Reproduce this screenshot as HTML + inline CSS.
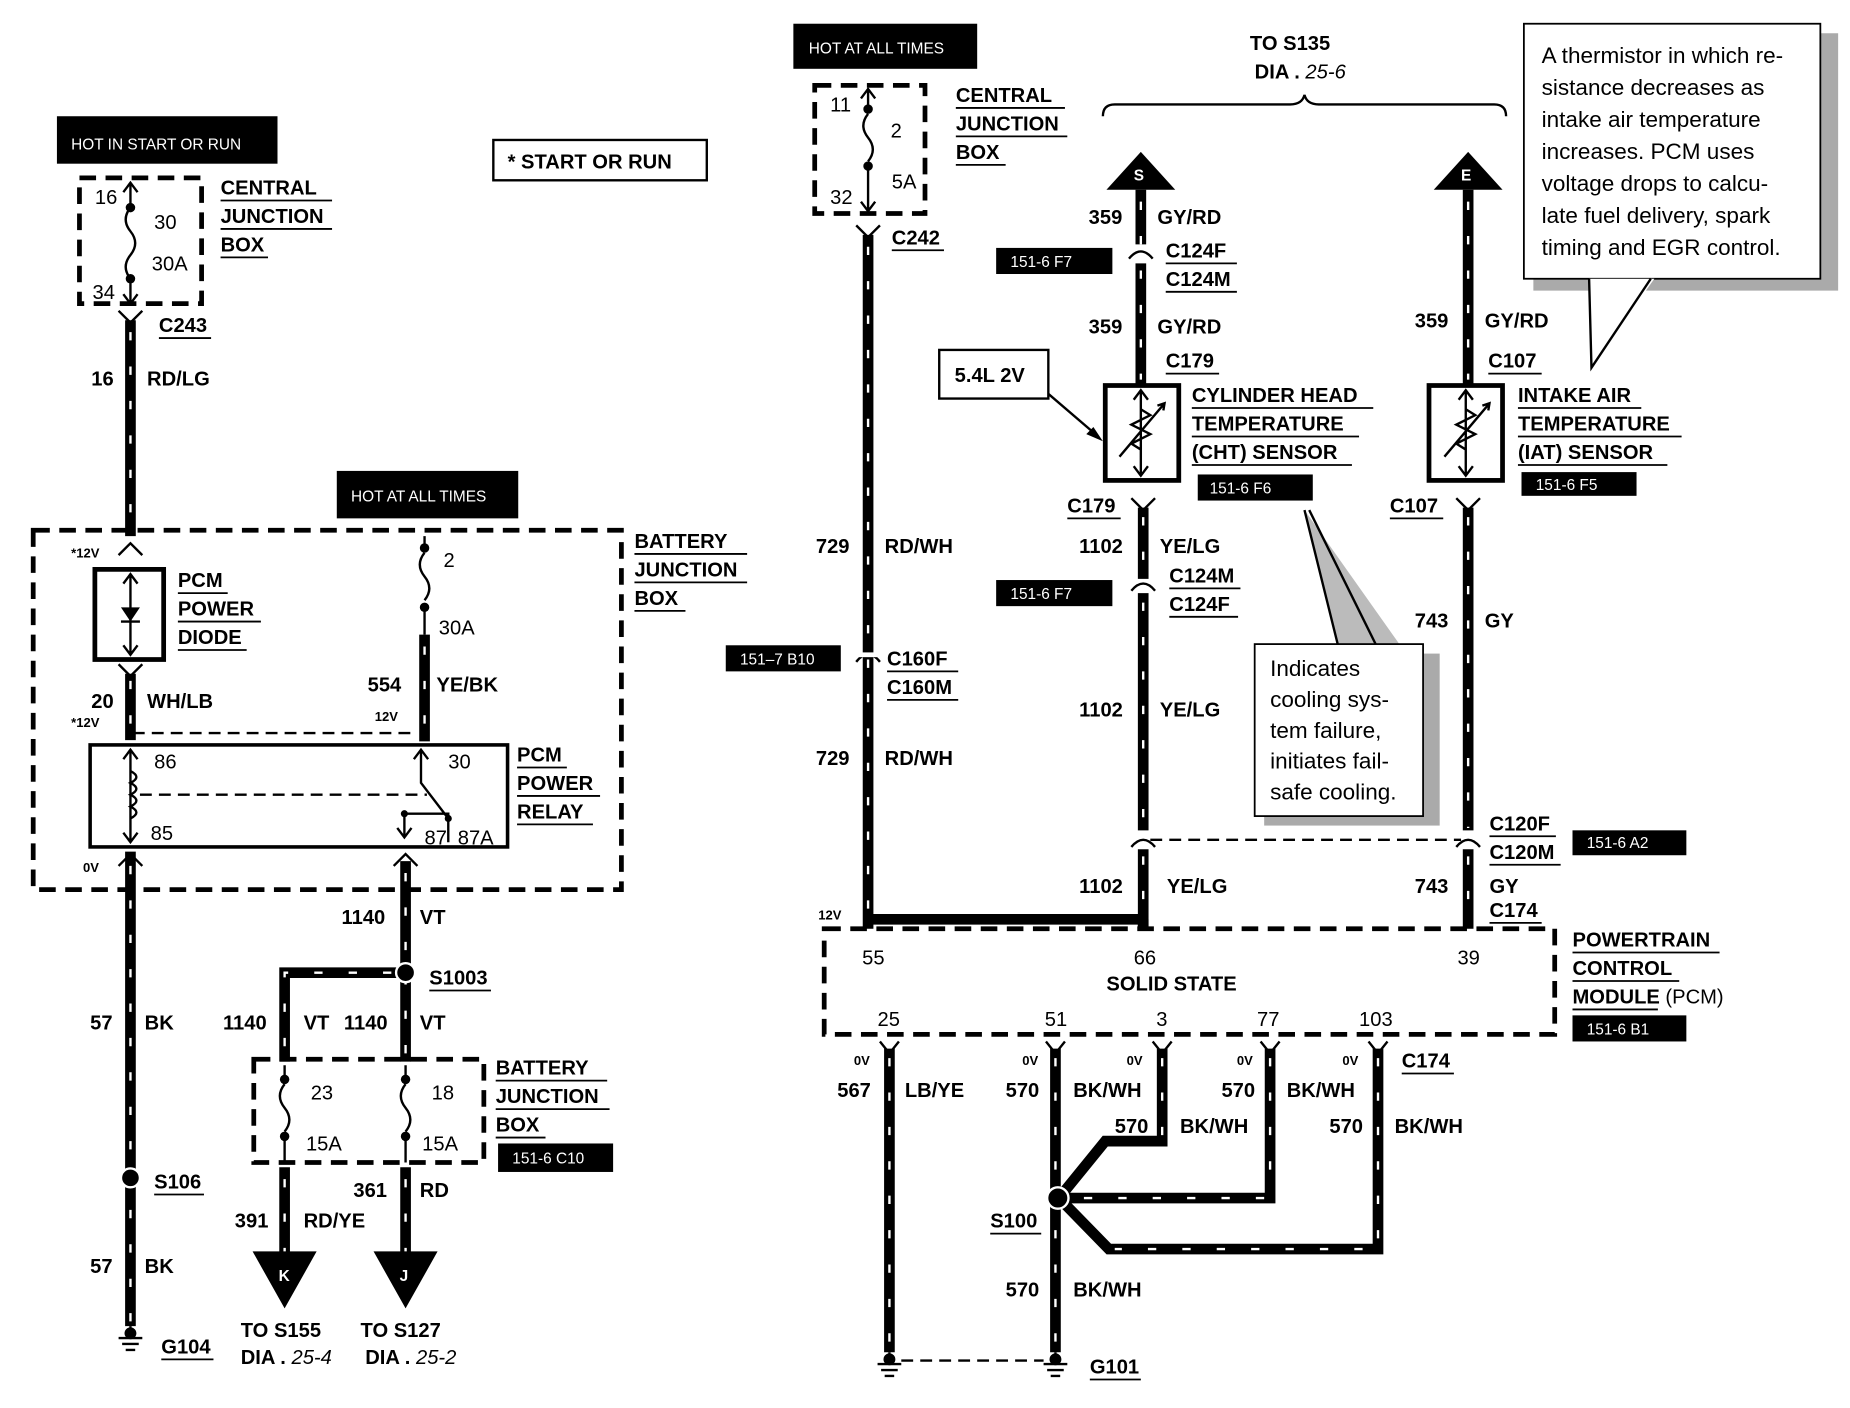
<!DOCTYPE html>
<html><head><meta charset="utf-8"><style>
html,body{margin:0;padding:0;background:#fff;}
svg{display:block}
text{font-family:"Liberation Sans",sans-serif;font-weight:bold;font-size:17px;fill:#000}
.n{font-weight:normal}
.s{font-size:13px;font-weight:normal;fill:#fff}
.v{font-size:11px}
.c{font-weight:normal;font-size:19px}
.w{stroke:#000;stroke-width:9;fill:none;stroke-linejoin:miter}
.wd{stroke:#fff;stroke-width:2;fill:none;stroke-dasharray:7 22}
.d{stroke:#000;stroke-width:4;fill:none;stroke-dasharray:14 8}
.dt{stroke:#000;stroke-width:2;fill:none;stroke-dasharray:10 6}
.l{stroke:#000;stroke-width:2;fill:none}
.u{stroke:#000;stroke-width:1.5}
</style></head><body>
<svg width="1850" height="1408" viewBox="0 0 1560 1187" preserveAspectRatio="none" xmlns="http://www.w3.org/2000/svg">
<!-- LEFT -->
<rect x="48" y="98" width="186" height="40" fill="#000"/><text class="s" x="60" y="126">HOT IN START OR RUN</text>
<rect x="416" y="118" width="180" height="34" fill="none" stroke="#000" stroke-width="2"/><text x="428" y="142">* START OR RUN</text>
<rect x="67" y="150" width="103" height="106" class="d"/>
<path class="l" d="M110 154 V175 M110 235 V256 M104 162 L110 154 L116 162 M104 248 L110 256 L116 248"/>
<path class="l" d="M110 175 q-8 10 0 20 q8 10 0 20 q-8 10 0 20"/>
<circle cx="110" cy="175" r="4"/><circle cx="110" cy="235" r="4"/>
<text class="n" x="80" y="172">16</text><text x="130" y="193" class="n">30</text><text x="128" y="228" class="n">30A</text><text x="78" y="252" class="n">34</text>
<text x="186" y="164">CENTRAL</text><text x="186" y="188">JUNCTION</text><text x="186" y="212">BOX</text>
<path class="u" d="M186 169H280 M186 193H280 M186 217H226"/>
<path class="w" d="M110 270 V452"/><path class="wd" d="M110 280 V452"/>
<path class="l" d="M100 262 L110 272 L120 262"/>
<text x="134" y="280">C243</text><path class="u" d="M134 285H178"/>
<text x="77" y="325">16</text><text x="124" y="325">RD/LG</text>
<rect x="284" y="397" width="153" height="40" fill="#000"/><text class="s" x="296" y="423">HOT AT ALL TIMES</text>
<rect x="28" y="447" width="496" height="303" class="d"/>
<text x="535" y="462">BATTERY</text><text x="535" y="486">JUNCTION</text><text x="535" y="510">BOX</text>
<path class="u" d="M535 467H630 M535 491H630 M535 515H578"/>
<path class="l" d="M100 468 L110 458 L120 468"/>
<text class="v" x="60" y="470">*12V</text>
<rect x="80" y="480" width="58" height="76" fill="none" stroke="#000" stroke-width="4"/>
<path class="l" d="M110 484 V552 M104 492 L110 484 L116 492 M104 544 L110 552 L116 544"/>
<path d="M102 512 H118 L110 524 Z"/><path class="l" d="M102 524H118"/>
<text x="150" y="495">PCM</text><text x="150" y="519">POWER</text><text x="150" y="543">DIODE</text>
<path class="u" d="M150 500H192 M150 524H220 M150 548H208"/>
<path class="w" d="M110 568 V624"/><path class="wd" d="M110 574 V624"/>
<path class="l" d="M100 560 L110 570 L120 560"/>
<text x="77" y="597">20</text><text x="124" y="597">WH/LB</text><text class="v" x="60" y="613">*12V</text>
<path class="l" d="M358 452 V462 M358 512 V535"/><circle cx="358" cy="462" r="4"/><circle cx="358" cy="512" r="4"/>
<path class="l" d="M358 466 q-8 10 0 20 q8 10 0 20"/>
<path class="w" d="M358 535 V625"/><path class="wd" d="M358 545 V625"/>
<text class="n" x="374" y="478">2</text><text class="n" x="370" y="535">30A</text>
<text x="310" y="583">554</text><text x="368" y="583">YE/BK</text><text class="v" x="316" y="608">12V</text>
<path class="dt" d="M112 618 H350"/>
<rect x="76" y="628" width="352" height="86" fill="none" stroke="#000" stroke-width="3"/>
<path class="l" d="M110 632 V710 M104 640 L110 632 L116 640 M104 702 L110 710 L116 702"/>
<path class="l" d="M110 650 q10 5 0 10 q10 5 0 10 q10 5 0 10 q10 5 0 10"/>
<path class="dt" d="M118 670 H360"/>
<path class="l" d="M355 632 V660 L378 690 M349 640 L355 632 L361 640 M341 706 V686 H378 V710 M335 698 L341 706 L347 698 M378 690 V710"/>
<circle cx="341" cy="686" r="3"/><circle cx="378" cy="690" r="3"/>
<text class="n" x="130" y="648">86</text><text class="n" x="127" y="708">85</text><text class="n" x="378" y="648">30</text><text class="n" x="358" y="712">87</text><text class="n" x="386" y="712">87A</text>
<text x="436" y="642">PCM</text><text x="436" y="666">POWER</text><text x="436" y="690">RELAY</text>
<path class="u" d="M436 647H478 M436 671H506 M436 695H500"/>
<path class="w" d="M110 718 V1118"/><path class="wd" d="M110 730 V1118"/>
<path class="l" d="M100 730 L110 720 L120 730"/>
<text class="v" x="70" y="735">0V</text>
<text x="76" y="868">57</text><text x="122" y="868">BK</text>
<circle cx="110" cy="993" r="8" stroke="#fff" stroke-width="2"/><text x="130" y="1002">S106</text><path class="u" d="M130 1007H172"/>
<text x="76" y="1073">57</text><text x="122" y="1073">BK</text>
<path class="l" d="M110 1118 V1128 M100 1128H120 M103 1133H117 M106 1138H114"/><circle cx="110" cy="1124" r="5"/>
<text x="136" y="1141">G104</text><path class="u" d="M136 1146H180"/>
<path class="w" d="M342 726 V895 M342 820 H240 V895"/><path class="wd" d="M342 736 V895 M330 820 H240 V895"/>
<path class="l" d="M332 730 L342 720 L352 730"/>
<text x="288" y="779">1140</text><text x="354" y="779">VT</text>
<circle cx="342" cy="820" r="8" stroke="#fff" stroke-width="2"/><text x="362" y="830">S1003</text><path class="u" d="M362 835H414"/>
<text x="188" y="868">1140</text><text x="256" y="868">VT</text><text x="290" y="868">1140</text><text x="354" y="868">VT</text>
<rect x="214" y="893" width="194" height="87" class="d"/>
<path class="l" d="M240 898 V910 M240 958 V980 M342 898 V910 M342 958 V980"/>
<circle cx="240" cy="910" r="4"/><circle cx="240" cy="958" r="4"/><circle cx="342" cy="910" r="4"/><circle cx="342" cy="958" r="4"/>
<path class="l" d="M240 914 q-8 10 0 20 q8 10 0 20 M342 914 q-8 10 0 20 q8 10 0 20"/>
<text class="n" x="262" y="927">23</text><text class="n" x="258" y="970">15A</text><text class="n" x="364" y="927">18</text><text class="n" x="356" y="970">15A</text>
<text x="418" y="906">BATTERY</text><text x="418" y="930">JUNCTION</text><text x="418" y="954">BOX</text>
<path class="u" d="M418 911H512 M418 935H514 M418 959H460"/>
<rect x="420" y="964" width="97" height="24" fill="#000"/><text class="s" x="432" y="981">151-6 C10</text>
<path class="w" d="M240 984 V1058 M342 984 V1058"/><path class="wd" d="M240 994 V1058 M342 994 V1058"/>
<path d="M213 1055 H267 L240 1103 Z M315 1055 H369 L342 1103 Z"/>
<text class="s" x="235" y="1080" style="font-weight:bold">K</text><text class="s" x="337" y="1080" style="font-weight:bold">J</text>
<text x="198" y="1035">391</text><text x="256" y="1035">RD/YE</text><text x="298" y="1009">361</text><text x="354" y="1009">RD</text>
<text x="203" y="1127">TO S155</text><text x="203" y="1150">DIA . <tspan font-style="italic" font-weight="normal">25-4</tspan></text>
<text x="304" y="1127">TO S127</text><text x="308" y="1150">DIA . <tspan font-style="italic" font-weight="normal">25-2</tspan></text>
<!-- MIDDLE -->
<rect x="669" y="20" width="155" height="38" fill="#000"/><text class="s" x="682" y="45">HOT AT ALL TIMES</text>
<rect x="687" y="72" width="93" height="108" class="d"/>
<path class="l" d="M732 75 V92 M732 140 V178 M726 83 L732 75 L738 83 M726 170 L732 178 L738 170"/>
<circle cx="732" cy="92" r="4"/><circle cx="732" cy="140" r="4"/><path class="l" d="M732 96 q-8 10 0 20 q8 10 0 20"/>
<text class="n" x="700" y="94">11</text><text class="n" x="751" y="116">2</text><text class="n" x="752" y="159">5A</text><text class="n" x="700" y="172">32</text>
<text x="806" y="86">CENTRAL</text><text x="806" y="110">JUNCTION</text><text x="806" y="134">BOX</text>
<path class="u" d="M806 91H898 M806 115H900 M806 139H848"/>
<path class="w" d="M732 198 V775 H964 M964 775 V783 M732 775 V783"/><path class="wd" d="M732 208 V770"/>
<path class="l" d="M722 190 L732 200 L742 190"/>
<text x="752" y="206">C242</text><path class="u" d="M752 211H796"/>
<text x="688" y="466">729</text><text x="746" y="466">RD/WH</text>
<rect x="612" y="544" width="97" height="22" fill="#000"/><text class="s" x="624" y="560">151–7 B10</text>
<path class="l" d="M722 558 Q732 545 742 558"/><rect x="722" y="550" width="20" height="4" fill="#fff"/>
<text x="748" y="561">C160F</text><text x="748" y="585">C160M</text><path class="u" d="M748 566H808 M748 590H808"/>
<text x="688" y="645">729</text><text x="746" y="645">RD/WH</text>
<text class="v" x="690" y="775">12V</text>
<rect x="695" y="783" width="616" height="89" class="d"/>
<text class="n" x="727" y="813">55</text><text class="n" x="956" y="813">66</text><text class="n" x="1229" y="813">39</text>
<text x="933" y="835">SOLID STATE</text>
<text class="n" x="740" y="865">25</text><text class="n" x="881" y="865">51</text><text class="n" x="975" y="865">3</text><text class="n" x="1060" y="865">77</text><text class="n" x="1146" y="865">103</text>
<text x="1326" y="798">POWERTRAIN</text><text x="1326" y="822">CONTROL</text><text x="1326" y="846">MODULE <tspan font-weight="normal">(PCM)</tspan></text>
<path class="u" d="M1326 803H1450 M1326 827H1416 M1326 851H1398"/>
<rect x="1326" y="856" width="96" height="22" fill="#000"/><text class="s" x="1338" y="872">151-6 B1</text>
<path class="w" d="M750 884 V1140 M890 884 V1140 M980 884 V962 H932 L893 1010 M1071 884 V1010 H893 M1162 884 V1053 H935 L893 1010"/>
<path class="wd" d="M750 892 V1140 M890 892 V1140 M980 892 V958 M1071 892 V1005 M1162 892 V1053 H940 M1066 1010 H905"/>
<path class="l" d="M742 878 L750 888 L758 878 M882 878 L890 888 L898 878 M972 878 L980 888 L988 878 M1063 878 L1071 888 L1079 878 M1154 878 L1162 888 L1170 878"/>
<circle cx="892" cy="1010" r="9" stroke="#fff" stroke-width="2"/>
<text class="v" x="720" y="898">0V</text><text class="v" x="862" y="898">0V</text><text class="v" x="950" y="898">0V</text><text class="v" x="1043" y="898">0V</text><text class="v" x="1132" y="898">0V</text>
<text x="706" y="925">567</text><text x="763" y="925">LB/YE</text>
<text x="848" y="925">570</text><text x="905" y="925">BK/WH</text>
<text x="940" y="955">570</text><text x="995" y="955">BK/WH</text>
<text x="1030" y="925">570</text><text x="1085" y="925">BK/WH</text>
<text x="1121" y="955">570</text><text x="1176" y="955">BK/WH</text>
<text x="1182" y="900">C174</text><path class="u" d="M1182 905H1226"/>
<text x="835" y="1035">S100</text><path class="u" d="M835 1040H878"/>
<text x="848" y="1093">570</text><text x="905" y="1093">BK/WH</text>
<path class="dt" d="M760 1147 H880"/>
<path class="l" d="M750 1140 V1150 M740 1150H760 M743 1155H757 M746 1160H754 M890 1140 V1150 M880 1150H900 M883 1155H897 M886 1160H894"/>
<circle cx="750" cy="1146" r="5"/><circle cx="890" cy="1146" r="5"/>
<text x="919" y="1158">G101</text><path class="u" d="M919 1163H962"/>
<!-- CHT -->
<path d="M933 160 H991 L962 128 Z"/><text class="s" x="956" y="152" style="font-weight:bold">S</text>
<path class="w" d="M962 160 V206 M962 222 V325"/><path class="wd" d="M962 170 V206 M962 228 V320"/>
<path class="l" d="M952 218 Q962 206 972 218"/>
<text x="918" y="189">359</text><text x="976" y="189">GY/RD</text>
<rect x="840" y="209" width="98" height="22" fill="#000"/><text class="s" x="852" y="225">151-6 F7</text>
<text x="983" y="217">C124F</text><text x="983" y="241">C124M</text><path class="u" d="M983 222H1043 M983 246H1043"/>
<text x="918" y="281">359</text><text x="976" y="281">GY/RD</text>
<text x="983" y="310">C179</text><path class="u" d="M983 315H1028"/>
<rect x="932" y="325" width="62" height="80" fill="none" stroke="#000" stroke-width="4"/>
<path class="l" d="M962 329 V401 M956 337 L962 329 L968 337 M956 393 L962 401 L968 393 M962 345 l8 5 l-16 8 l16 8 l-16 8 l8 5 M944 385 L982 340 M976 342 l6 -2 l-1 6"/>
<text x="1005" y="339">CYLINDER HEAD</text><text x="1005" y="363">TEMPERATURE</text><text x="1005" y="387">(CHT) SENSOR</text>
<path class="u" d="M1005 344H1158 M1005 368H1146 M1005 392H1140"/>
<rect x="1010" y="400" width="97" height="22" fill="#000"/><text class="s" x="1020" y="416">151-6 F6</text>
<rect x="792" y="295" width="92" height="41" fill="none" stroke="#000" stroke-width="2"/><text x="805" y="322">5.4L 2V</text>
<path class="l" d="M884 332 L926 368"/><path d="M930 372 L916 366 L922 360 Z"/>
<text x="900" y="432">C179</text><path class="u" d="M900 437H945"/>
<path class="w" d="M964 428 V488 M964 500 V700 M964 716 V783"/><path class="wd" d="M964 436 V484 M964 508 V698 M964 722 V775"/>
<path class="l" d="M954 420 L964 430 L974 420 M954 498 Q964 486 974 498 M954 714 Q964 702 974 714"/>
<text x="910" y="466">1102</text><text x="978" y="466">YE/LG</text>
<rect x="840" y="489" width="98" height="22" fill="#000"/><text class="s" x="852" y="505">151-6 F7</text>
<text x="986" y="491">C124M</text><text x="986" y="515">C124F</text><path class="u" d="M986 496H1046 M986 520H1044"/>
<text x="910" y="604">1102</text><text x="978" y="604">YE/LG</text>
<text x="910" y="753">1102</text><text x="984" y="753">YE/LG</text>
<path class="dt" d="M970 708 H1232"/>
<!-- callout cooling -->
<path d="M1100 430 L1128 543 L1180 543 Z" fill="#bbb"/><path class="l" d="M1100 430 L1128 543 M1104 430 L1160 543"/>
<rect x="1066" y="551" width="148" height="145" fill="#aaa"/>
<rect x="1058" y="543" width="142" height="145" fill="#fff" stroke="#000" stroke-width="1.5"/>
<text class="c" x="1071" y="570">Indicates</text><text class="c" x="1071" y="596">cooling sys-</text><text class="c" x="1071" y="622">tem failure,</text><text class="c" x="1071" y="648">initiates fail-</text><text class="c" x="1071" y="674">safe cooling.</text>
<!-- IAT -->
<path d="M1209 160 H1267 L1238 128 Z"/><text class="s" x="1232" y="152" style="font-weight:bold">E</text>
<path class="w" d="M1238 160 V325"/><path class="wd" d="M1238 170 V320"/>
<text x="1193" y="276">359</text><text x="1252" y="276">GY/RD</text>
<text x="1255" y="310">C107</text><path class="u" d="M1255 315H1300"/>
<rect x="1205" y="325" width="62" height="80" fill="none" stroke="#000" stroke-width="4"/>
<path class="l" d="M1236 329 V401 M1230 337 L1236 329 L1242 337 M1230 393 L1236 401 L1242 393 M1236 345 l8 5 l-16 8 l16 8 l-16 8 l8 5 M1218 385 L1256 340 M1250 342 l6 -2 l-1 6"/>
<text x="1280" y="339">INTAKE AIR</text><text x="1280" y="363">TEMPERATURE</text><text x="1280" y="387">(IAT) SENSOR</text>
<path class="u" d="M1280 344H1384 M1280 368H1418 M1280 392H1406"/>
<rect x="1283" y="398" width="97" height="20" fill="#000"/><text class="s" x="1295" y="413">151-6 F5</text>
<text x="1172" y="432">C107</text><path class="u" d="M1172 437H1217"/>
<path class="w" d="M1238 428 V700 M1238 716 V783"/><path class="wd" d="M1238 436 V698 M1238 722 V775"/>
<path class="l" d="M1228 420 L1238 430 L1248 420 M1228 714 Q1238 702 1248 714"/>
<text x="1193" y="529">743</text><text x="1252" y="529">GY</text>
<text x="1256" y="700">C120F</text><text x="1256" y="724">C120M</text><path class="u" d="M1256 705H1312 M1256 729H1316"/>
<rect x="1326" y="700" width="96" height="21" fill="#000"/><text class="s" x="1338" y="715">151-6 A2</text>
<text x="1193" y="753">743</text><text x="1256" y="753">GY</text>
<text x="1256" y="773">C174</text><path class="u" d="M1256 778H1300"/>
<!-- top brace -->
<text x="1054" y="42">TO S135</text><text x="1058" y="66">DIA . <tspan font-style="italic" font-weight="normal">25-6</tspan></text>
<path class="l" d="M930 98 Q930 88 940 88 H1088 Q1098 88 1100 80 Q1102 88 1112 88 H1260 Q1270 88 1270 98"/>
<!-- thermistor callout -->
<path d="M1293 28 H1550 V245 H1293 Z" fill="#aaa"/>
<rect x="1285" y="20" width="250" height="215" fill="#fff" stroke="#000" stroke-width="1.5"/>
<path d="M1340 235 L1342 310 L1395 235 Z" fill="#fff"/><path class="l" d="M1340 235 L1342 310 L1392 235"/>
<text class="c" x="1300" y="53">A thermistor in which re-</text>
<text class="c" x="1300" y="80">sistance decreases as</text>
<text class="c" x="1300" y="107">intake air temperature</text>
<text class="c" x="1300" y="134">increases. PCM uses</text>
<text class="c" x="1300" y="161">voltage drops to calcu-</text>
<text class="c" x="1300" y="188">late fuel delivery, spark</text>
<text class="c" x="1300" y="215">timing and EGR control.</text>
</svg>
</body></html>
